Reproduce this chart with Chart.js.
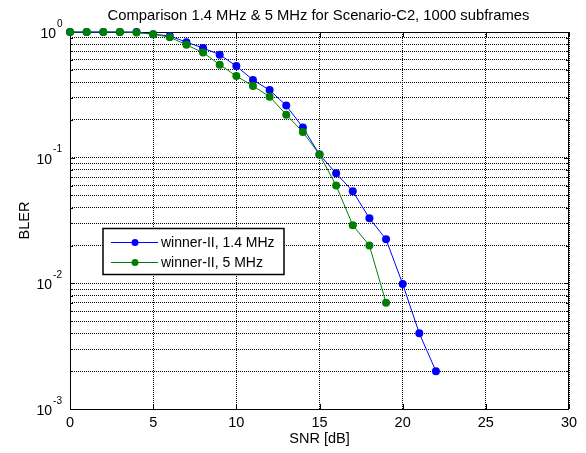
<!DOCTYPE html>
<html>
<head>
<meta charset="utf-8">
<title>BLER comparison</title>
<script src="https://cdn.jsdelivr.net/npm/chart.js@4"></script>
<style>
    html, body { margin: 0; padding: 0; background: #fff; }
    #wrap { width: 586px; height: 453px; position: relative; }
</style>
</head>
<body>
<div id="wrap"><canvas id="blerChart" width="586" height="453"></canvas></div>
<script>
// SNR points (dB)
const snr14 = [0, 1, 2, 3, 4, 5, 6, 7, 8, 9, 10, 11, 12, 13, 14, 15, 16, 17, 18, 19, 20, 21, 22];
const snr5 = [0, 1, 2, 3, 4, 5, 6, 7, 8, 9, 10, 11, 12, 13, 14, 15, 16, 17, 18, 19];

// BLER values
const bler14 = [1, 1, 1, 1, 1, 0.96, 0.93, 0.83, 0.746, 0.66, 0.536, 0.415, 0.345, 0.26, 0.174,
    0.106, 0.075, 0.054, 0.033, 0.0224, 0.0099, 0.004, 0.002];
const bler5 = [1, 1, 1, 1, 0.99, 0.96, 0.91, 0.79, 0.686, 0.55, 0.446, 0.372, 0.306, 0.22, 0.16,
    0.106, 0.06, 0.029, 0.02, 0.007];

const seriesNames = ['winner-II, 1.4 MHz', 'winner-II, 5 MHz'];
const xTicks = [0, 5, 10, 15, 20, 25, 30];
const yDecades = [0, -1, -2, -3];

const FONT = '"Liberation Sans", Arial, sans-serif';
const BLUE = '#0000ff';
const GREEN = '#008000';

// every 1..9 x 10^k gridline, like matlab's minor log grid
function logGridValues() {
    const vals = [];
    for (let k = -3; k < 0; k++) {
        for (let m = 1; m < 10; m++) vals.push(m * Math.pow(10, k));
    }
    vals.push(1);
    return vals;
}

const textPlugin = {
    id: 'matlabText',
    beforeDatasetsDraw(chart) {
        // box + inward ticks go under the data, like matlab
        const ctx = chart.ctx;
        const a = chart.chartArea;
        const xs = chart.scales.x;
        const ys = chart.scales.y;
        ctx.save();
        ctx.strokeStyle = '#000';
        ctx.lineWidth = 1;
        ctx.setLineDash([]);
        ctx.strokeRect(a.left + 0.5, a.top + 0.5, a.right - a.left - 1, a.bottom - a.top);

        ctx.beginPath();
        xTicks.forEach(v => {
            const px = Math.round(xs.getPixelForValue(v)) + 0.5;
            ctx.moveTo(px, a.bottom); ctx.lineTo(px, a.bottom - 5);
            ctx.moveTo(px, a.top); ctx.lineTo(px, a.top + 5);
        });
        logGridValues().forEach(v => {
            const py = Math.round(ys.getPixelForValue(v)) + 0.5;
            const len = Math.abs(Math.log10(v) % 1) < 1e-9 ? 5 : 3;
            ctx.moveTo(a.left, py); ctx.lineTo(a.left + len, py);
            ctx.moveTo(a.right, py); ctx.lineTo(a.right - len, py);
        });
        ctx.stroke();
        ctx.restore();
    },
    afterDraw(chart) {
        const ctx = chart.ctx;
        const a = chart.chartArea;
        const xs = chart.scales.x;
        const ys = chart.scales.y;
        ctx.save();
        ctx.fillStyle = '#000';

        // x tick labels
        ctx.font = '14.5px ' + FONT;
        ctx.textAlign = 'center';
        ctx.textBaseline = 'middle';
        xTicks.forEach(v => ctx.fillText(String(v), xs.getPixelForValue(v), a.bottom + 14));

        // y tick labels 10^k
        yDecades.forEach(k => {
            const py = ys.getPixelForValue(Math.pow(10, k));
            const sup = String(k);
            ctx.font = '10px ' + FONT;
            const supW = ctx.measureText(sup).width;
            ctx.textAlign = 'left';
            ctx.textBaseline = 'middle';
            const supX = a.left - 13 - (k < 0 ? supW - 5 : 0);
            ctx.fillText(sup, supX, py - 8);
            ctx.font = '14px ' + FONT;
            ctx.textAlign = 'right';
            ctx.fillText('10', supX - 1, py + 2);
        });

        // axis titles
        ctx.font = '14.5px ' + FONT;
        ctx.textAlign = 'center';
        ctx.textBaseline = 'middle';
        ctx.fillText('SNR [dB]', (a.left + a.right) / 2, a.bottom + 30);
        ctx.save();
        ctx.translate(25, (a.top + a.bottom) / 2);
        ctx.rotate(-Math.PI / 2);
        ctx.fillText('BLER', 0, 0);
        ctx.restore();

        // title
        ctx.font = '14.8px ' + FONT;
        ctx.fillText('Comparison 1.4 MHz & 5 MHz for Scenario-C2, 1000 subframes', (a.left + a.right) / 2 - 1, 16);

        // legend box inside the axes
        const lx = 103, ly = 228.5, lw = 181, lh = 46;
        ctx.fillStyle = '#fff';
        ctx.fillRect(lx, ly, lw, lh);
        ctx.strokeStyle = '#000';
        ctx.lineWidth = 1.5;
        ctx.strokeRect(lx, ly, lw, lh);
        const rows = [[BLUE, seriesNames[0], 242.5], [GREEN, seriesNames[1], 262.5]];
        rows.forEach(([col, label, ry]) => {
            ctx.strokeStyle = col;
            ctx.lineWidth = 1;
            ctx.beginPath();
            ctx.moveTo(111, ry); ctx.lineTo(158, ry);
            ctx.stroke();
            ctx.fillStyle = col;
            ctx.beginPath();
            ctx.arc(135, ry, 3.5, 0, Math.PI * 2);
            ctx.fill();
            ctx.fillStyle = '#000';
            ctx.font = '14px ' + FONT;
            ctx.textAlign = 'left';
            ctx.fillText(label, 161, ry + 1);
        });

        ctx.restore();
    }
};

new Chart(document.getElementById('blerChart'), {
    type: 'line',
    data: {
        datasets: [
            {
                label: seriesNames[0],
                data: snr14.map((x, i) => ({ x, y: bler14[i] })),
                borderColor: BLUE, backgroundColor: BLUE,
                pointBackgroundColor: BLUE, pointBorderColor: BLUE,
                borderWidth: 1, pointRadius: 4, pointBorderWidth: 0,
                clip: false, order: 1
            },
            {
                label: seriesNames[1],
                data: snr5.map((x, i) => ({ x, y: bler5[i] })),
                borderColor: GREEN, backgroundColor: GREEN,
                pointBackgroundColor: GREEN, pointBorderColor: GREEN,
                borderWidth: 1, pointRadius: 4, pointBorderWidth: 0,
                clip: false, order: 0
            }
        ]
    },
    options: {
        responsive: false,
        animation: false,
        devicePixelRatio: 1,
        layout: { padding: { left: 70, top: 32, right: 17, bottom: 44 } },
        plugins: { legend: { display: false }, tooltip: { enabled: false }, title: { display: false } },
        scales: {
            x: {
                type: 'linear', min: 0, max: 30,
                afterBuildTicks: s => { s.ticks = xTicks.map(v => ({ value: v })); },
                ticks: { display: false },
                grid: { color: '#000', lineWidth: 1, drawTicks: false },
                border: { display: false, dash: [1, 1] }
            },
            y: {
                type: 'logarithmic', min: 0.001, max: 1,
                afterBuildTicks: s => { s.ticks = logGridValues().map(v => ({ value: v })); },
                ticks: { display: false },
                grid: { color: '#000', lineWidth: 1, drawTicks: false },
                border: { display: false, dash: [1, 1] }
            }
        }
    },
    plugins: [textPlugin]
});
</script>
</body>
</html>
